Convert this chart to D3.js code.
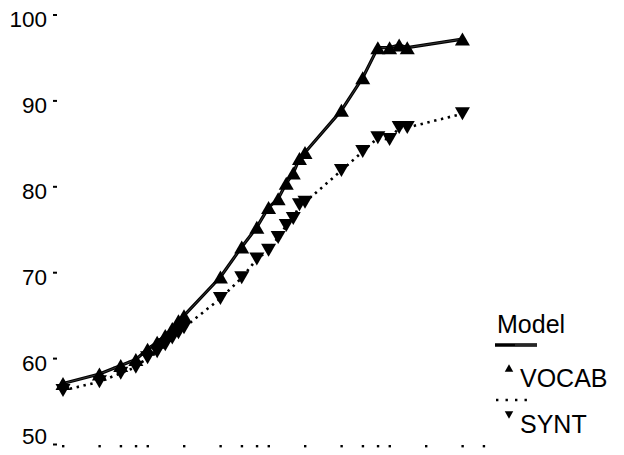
<!DOCTYPE html>
<html>
<head>
<meta charset="utf-8">
<script src="https://cdn.jsdelivr.net/npm/d3@7"></script>
<style>
  html, body { margin: 0; padding: 0; background: #fff; }
  svg { display: block; font-family: "Liberation Sans", Arial, Helvetica, sans-serif; }
</style>
</head>
<body>
<svg id="chart" width="624" height="455"></svg>
<script>
// Training amount (log scale) and accuracy for the two test sets
const xValues = [1, 2, 3, 4, 5, 6, 7, 8, 9, 10, 20, 30, 40, 50, 60, 70, 80, 90, 100, 200, 300, 400, 500, 600, 700, 2000];
const vocab   = [57.1, 58.2, 59.2, 59.9, 61.1, 61.9, 62.7, 63.5, 64.4, 65.0, 69.5, 73.0, 75.3, 77.6, 78.6, 80.4, 81.6, 83.3, 84.0, 88.9, 92.7, 96.2, 96.2, 96.5, 96.2, 97.2];
const synt    = [56.3, 57.3, 58.3, 59.0, 60.1, 60.8, 61.6, 62.4, 63.0, 63.6, 67.0, 69.4, 71.6, 72.6, 74.1, 75.5, 76.3, 77.9, 78.2, 81.9, 84.1, 85.7, 85.5, 86.9, 86.9, 88.5];
const yTicks  = [50, 60, 70, 80, 90, 100];
const xTicks  = [1, 2, 3, 4, 5, 10, 20, 30, 40, 50, 100, 200, 300, 400, 500, 1000, 2000, 3000];
const legendItems = ["Model", "VOCAB", "SYNT"];

const svg = d3.select("#chart");

const x = d3.scaleLog().domain([1, 1000]).range([63, 426]);
const y = d3.scaleLinear().domain([50, 100]).range([444.5, 15]);

const vocabPts = xValues.map((v, i) => [v, vocab[i]]);
const syntPts  = xValues.map((v, i) => [v, synt[i]]);

// triangle paths centred on the point
function triUp(s) {
  const h = s * Math.sqrt(3) / 2;
  return `M0,${-h / 2}L${s / 2},${h / 2}L${-s / 2},${h / 2}Z`;
}
function triDown(s) {
  const h = s * Math.sqrt(3) / 2;
  return `M0,${h / 2}L${s / 2},${-h / 2}L${-s / 2},${-h / 2}Z`;
}
const MARK = 15;

// y axis: short tick dashes with labels
const yAxis = svg.append("g");
yAxis.selectAll("rect.tick").data(yTicks).join("rect")
  .attr("x", 53).attr("y", d => y(d) - 1).attr("width", 4).attr("height", 2).attr("fill", "#000");
yAxis.selectAll("text").data(yTicks).join("text")
  .attr("x", 47)
  .attr("y", d => d === 50 ? y(d) - 1 : y(d) + 12)
  .attr("text-anchor", "end")
  .attr("font-size", 22.5)
  .attr("fill", "#000")
  .text(d => d);

// x axis: tiny tick marks along the bottom
svg.append("g").selectAll("rect").data(xTicks).join("rect")
  .attr("x", d => x(d) - 1).attr("y", 445).attr("width", 2.4).attr("height", 2.4).attr("fill", "#000");

const line = d3.line().x(d => x(d[0])).y(d => y(d[1]));

// SYNT: dotted line with down triangles
svg.append("path").attr("d", line(syntPts))
  .attr("fill", "none").attr("stroke", "#000").attr("stroke-width", 2.6)
  .attr("stroke-dasharray", "2.4,4.6");
svg.append("g").selectAll("path").data(syntPts).join("path")
  .attr("transform", d => `translate(${x(d[0])},${y(d[1])})`)
  .attr("d", triDown(MARK)).attr("fill", "#000");

// Model line: solid line through VOCAB with a faint light core
const modelPath = line(vocabPts);
svg.append("path").attr("d", modelPath)
  .attr("fill", "none").attr("stroke", "#000").attr("stroke-width", 3.2).attr("stroke-linejoin", "round");
svg.append("path").attr("d", modelPath)
  .attr("fill", "none").attr("stroke", "#fff").attr("stroke-width", 0.5).attr("stroke-opacity", 0.45);

// VOCAB up triangles
svg.append("g").selectAll("path").data(vocabPts).join("path")
  .attr("transform", d => `translate(${x(d[0])},${y(d[1])})`)
  .attr("d", triUp(MARK)).attr("fill", "#000");

// legend
const lg = svg.append("g");
lg.append("text").attr("x", 497).attr("y", 333).attr("font-size", 25).text(legendItems[0]);
lg.append("line").attr("x1", 495).attr("x2", 537).attr("y1", 345).attr("y2", 345)
  .attr("stroke", "#000").attr("stroke-width", 3.5);
lg.append("line").attr("x1", 515).attr("x2", 537).attr("y1", 345).attr("y2", 345)
  .attr("stroke", "#fff").attr("stroke-width", 0.6).attr("stroke-opacity", 0.5);
lg.append("path").attr("transform", "translate(509,368)").attr("d", triUp(8.5)).attr("fill", "#000");
lg.append("text").attr("x", 520).attr("y", 387).attr("font-size", 25).text(legendItems[1]);
lg.append("line").attr("x1", 496).attr("x2", 534).attr("y1", 400).attr("y2", 400)
  .attr("stroke", "#000").attr("stroke-width", 2.4).attr("stroke-dasharray", "2.4,7.1");
lg.append("path").attr("transform", "translate(509,415)").attr("d", triDown(8.5)).attr("fill", "#000");
lg.append("text").attr("x", 520).attr("y", 433).attr("font-size", 25).text(legendItems[2]);
</script>
</body>
</html>
